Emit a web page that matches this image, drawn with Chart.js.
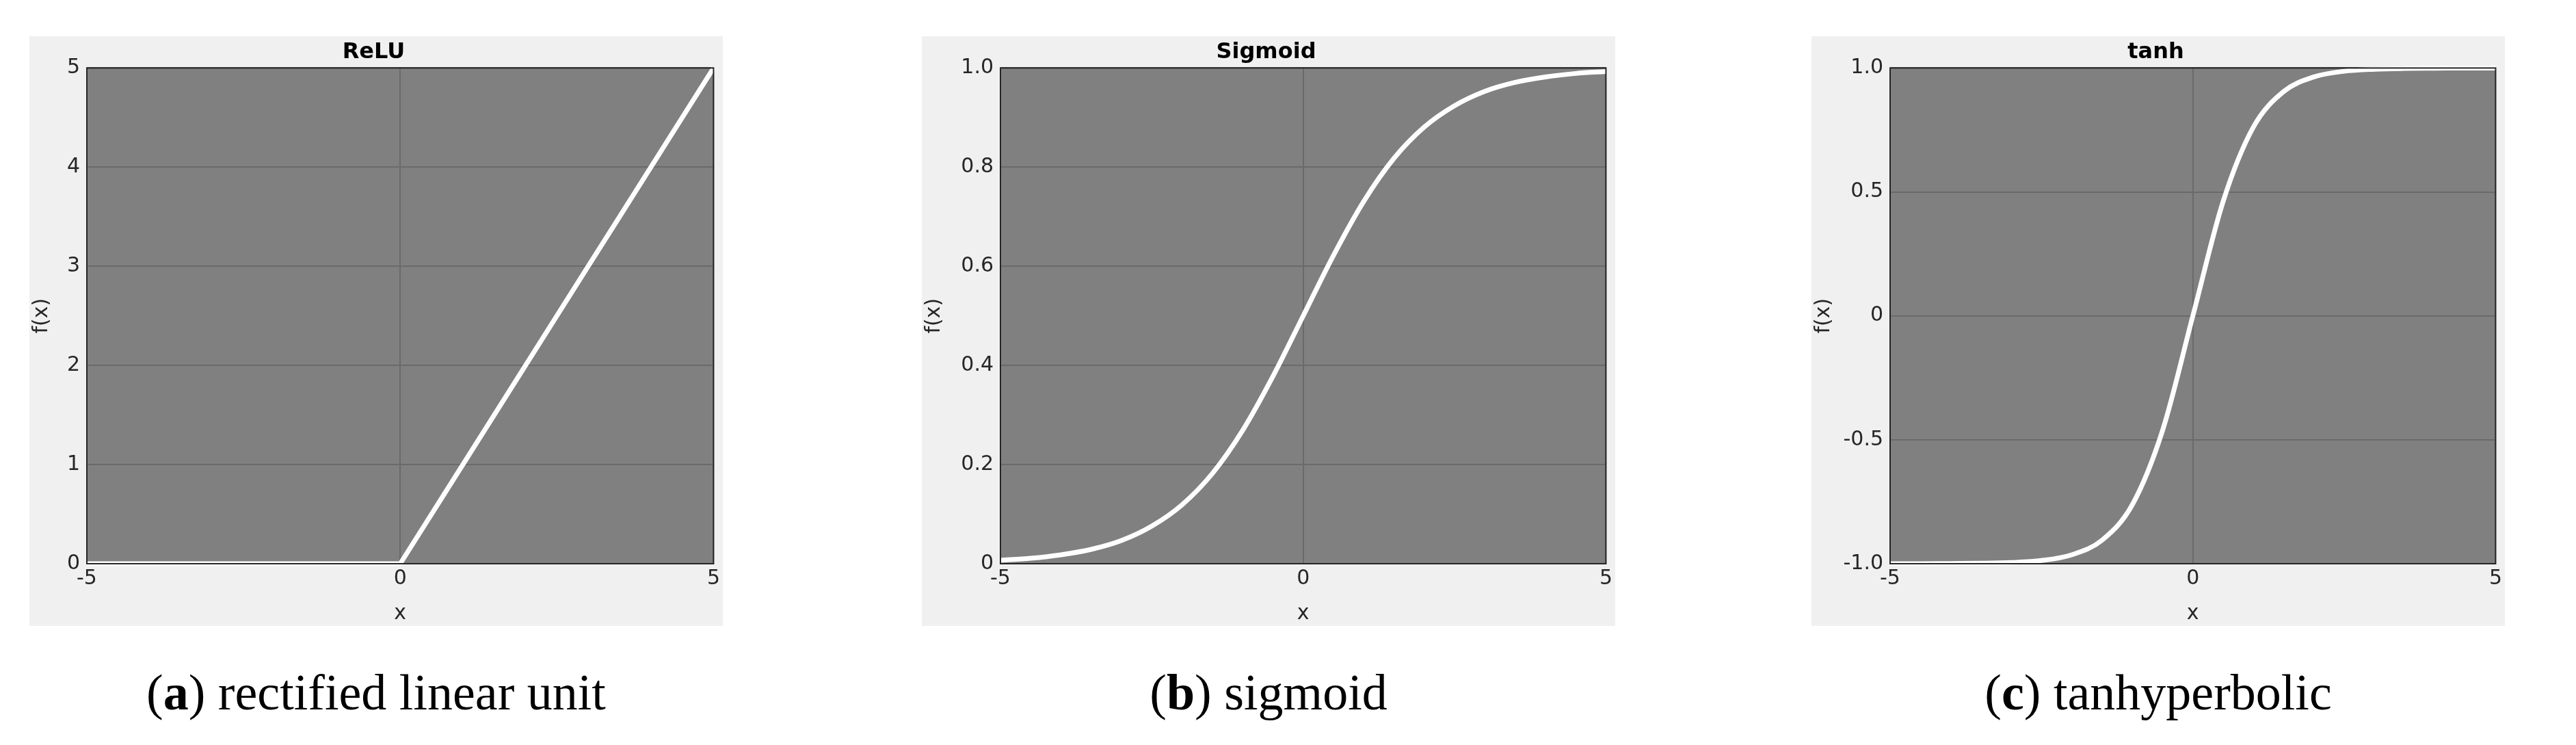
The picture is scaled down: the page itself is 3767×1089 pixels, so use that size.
<!DOCTYPE html>
<html><head><meta charset="utf-8">
<script src="https://cdn.jsdelivr.net/npm/chart.js@4"></script>
<style>
body{margin:0;width:3767px;height:1089px;background:#fff;position:relative;overflow:hidden}
.panel{position:absolute;top:53px;width:1014px;height:862px;background:#f0f0f0}
.cap{position:absolute;top:970px;width:1014px;text-align:center;font-family:"Liberation Serif",serif;font-size:74px;color:#000}
</style></head><body>
<div class="panel" style="left:43px"><canvas id="c0" width="1014" height="862"></canvas></div>
<div class="panel" style="left:1348px"><canvas id="c1" width="1014" height="862"></canvas></div>
<div class="panel" style="left:2649px"><canvas id="c2" width="1014" height="862"></canvas></div>
<div class="cap" style="left:43px">(<b>a</b>) rectified linear unit</div>
<div class="cap" style="left:1348px">(<b>b</b>) sigmoid</div>
<div class="cap" style="left:2649px">(<b>c</b>) tanhyperbolic</div>
<script>
const xValues = [-5,-4.5,-4,-3.5,-3,-2.5,-2,-1.5,-1,-0.5,0,0.5,1,1.5,2,2.5,3,3.5,4,4.5,5];
const reluValues = [0,0,0,0,0,0,0,0,0,0,0,0.5,1,1.5,2,2.5,3,3.5,4,4.5,5];
const sigmoidValues = [0.007,0.011,0.018,0.029,0.047,0.076,0.119,0.182,0.269,0.378,0.5,0.622,0.731,0.818,0.881,0.924,0.953,0.971,0.982,0.989,0.993];
const tanhValues = [-1,-1,-0.999,-0.998,-0.995,-0.987,-0.964,-0.905,-0.762,-0.462,0,0.462,0.762,0.905,0.964,0.987,0.995,0.998,0.999,1,1];
const titles = ['ReLU','Sigmoid','tanh'];
const yRanges = [[0,5,1],[0,1,0.2],[-1,1,0.5]];
const series = [reluValues, sigmoidValues, tanhValues];

const plotBg = {
  id:'plotBg',
  beforeDraw(chart){
    const {ctx, chartArea:a} = chart;
    ctx.save(); ctx.fillStyle='#808080';
    ctx.fillRect(a.left,a.top,a.right-a.left,a.bottom-a.top); ctx.restore();
  },
  afterDraw(chart){
    const {ctx, chartArea:a} = chart;
    ctx.save(); ctx.strokeStyle='#262626'; ctx.lineWidth=2;
    ctx.strokeRect(a.left,a.top,a.right-a.left,a.bottom-a.top); ctx.restore();
  }
};
const font = {family:'DejaVu Sans', size:30};

series.forEach((vals,i)=>{
  const [ymin,ymax,step] = yRanges[i];
  new Chart(document.getElementById('c'+i),{
    type:'line',
    data:{datasets:[{data:xValues.map((x,k)=>({x,y:vals[k]})),borderColor:'#ffffff',borderWidth:7,pointRadius:0,
      cubicInterpolationMode: i===0 ? 'default' : 'monotone', tension:0, clip:false}]},
    options:{
      responsive:false, animation:false,
      layout:{padding:{left:0,right:7,top:0,bottom:0}},
      plugins:{legend:{display:false},
        title:{display:true,text:titles[i],color:'#000',font:{family:'DejaVu Sans',size:32,weight:'bold'},padding:{top:4,bottom:4}}},
      scales:{
        x:{type:'linear',min:-5,max:5,
          ticks:{stepSize:5,color:'#262626',font,padding:4},
          grid:{color:'#6a6a6a',lineWidth:2,drawTicks:false},border:{display:false},
          title:{display:true,text:'x',color:'#262626',font,padding:0},
          afterFit(s){s.height=91;}},
        y:{min:ymin,max:ymax,
          ticks:{stepSize:step,color:'#262626',font,padding:10},
          grid:{color:'#6a6a6a',lineWidth:2,drawTicks:false},border:{display:false},
          title:{display:true,text:'f(x)',color:'#262626',font,padding:0},
          afterFit(s){s.width= i===0 ? 84 : 115;}}
      }
    },
    plugins:[plotBg]
  });
});
</script>
</body></html>
